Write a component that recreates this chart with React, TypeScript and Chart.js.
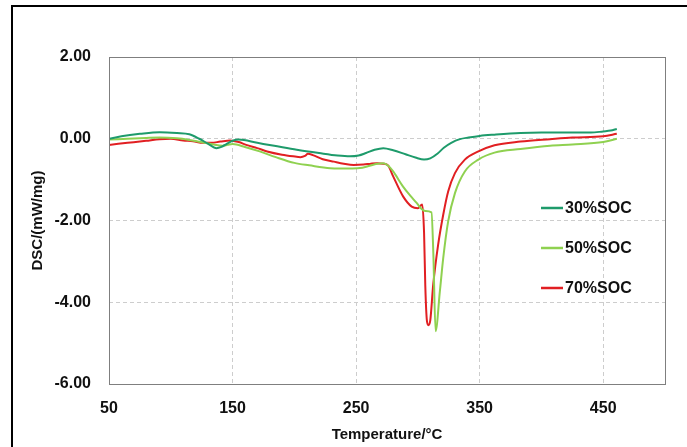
import React, { useEffect, useRef } from "react";
import { Chart, registerables } from "chart.js";

Chart.register(...registerables);

// ---------------- data ----------------
const SERIES_LABELS = ["30%SOC", "50%SOC", "70%SOC"];
const SERIES_COLORS = ["#1E9B6B", "#8FD150", "#E11F22"];

const T30 = [50, 60, 75, 91, 105, 115, 123, 130, 137, 141, 145, 150, 155, 170, 185, 202, 220, 235, 245, 252, 258, 265, 272, 280, 290, 298, 305, 310, 316, 321, 327, 334, 341, 350, 362, 383, 400, 420, 440, 450, 456, 461];
const DSC30 = [0.0, 0.06, 0.12, 0.16, 0.14, 0.11, 0.0, -0.12, -0.23, -0.2, -0.13, -0.05, -0.02, -0.1, -0.18, -0.27, -0.35, -0.41, -0.43, -0.41, -0.35, -0.27, -0.23, -0.28, -0.38, -0.46, -0.51, -0.48, -0.36, -0.22, -0.1, -0.01, 0.03, 0.07, 0.1, 0.14, 0.15, 0.15, 0.15, 0.18, 0.2, 0.24];

const T50 = [50, 65, 80, 91, 105, 115, 124, 133, 142, 146, 150, 160, 172, 185, 200, 212, 229, 247, 255, 261, 266, 272, 276, 280, 288, 294, 299, 303, 306, 311, 312.5, 314.3, 317.8, 320.5, 324.5, 330, 338, 349, 362, 383, 407, 425, 450, 461];
const DSC50 = [-0.02, 0.0, 0.02, 0.03, 0.01, -0.03, -0.08, -0.13, -0.17, -0.15, -0.13, -0.2, -0.31, -0.45, -0.59, -0.65, -0.72, -0.73, -0.71, -0.66, -0.62, -0.6, -0.66, -0.8, -1.17, -1.4, -1.57, -1.72, -1.77, -1.8, -2.8, -4.71, -3.73, -2.92, -2.02, -1.33, -0.8, -0.51, -0.34, -0.25, -0.17, -0.14, -0.08, 0.0];

const T70 = [50, 65, 80, 91, 100, 110, 118, 126, 133, 140, 148, 155, 161, 170, 178, 190, 199, 205, 208.6, 211, 215, 223, 232, 240, 248, 256, 262, 267, 272, 276, 280, 288, 295, 300, 303.5, 305, 306, 307.3, 308.5, 310, 312.4, 316.4, 320.5, 324.5, 330, 338, 349, 362, 383, 407, 425, 450, 461];
const DSC70 = [-0.15, -0.1, -0.05, -0.01, 0.0, -0.04, -0.06, -0.1, -0.1, -0.07, -0.04, -0.08, -0.15, -0.23, -0.31, -0.39, -0.43, -0.45, -0.42, -0.37, -0.4, -0.5, -0.56, -0.61, -0.64, -0.63, -0.61, -0.6, -0.61, -0.66, -0.92, -1.41, -1.66, -1.7, -1.61, -2.3, -3.6, -4.45, -4.56, -4.45, -3.57, -2.59, -1.86, -1.29, -0.84, -0.51, -0.31, -0.16, -0.07, -0.01, 0.03, 0.06, 0.12];

const X_TICKS = [50, 150, 250, 350, 450];
const Y_TICKS = [-6, -4, -2, 0, 2];
const X_MIN = 50;
const X_MAX = 500;
const Y_MIN = -6;
const Y_MAX = 2;
const X_TITLE = "Temperature/°C";
const Y_TITLE = "DSC/(mW/mg)";

const SERIES_T = [T30, T50, T70];
const SERIES_V = [DSC30, DSC50, DSC70];

const FONT_FAMILY = "'Liberation Sans', Arial, sans-serif";

export default function App() {
  const ref = useRef<HTMLCanvasElement | null>(null);

  useEffect(() => {
    const canvas = ref.current;
    if (!canvas) return;

    const framePlugin = {
      id: "framePlugin",
      beforeDraw(chart: any) {
        const ctx = chart.ctx;
        ctx.save();
        ctx.fillStyle = "#ffffff";
        ctx.fillRect(0, 0, chart.width, chart.height);
        ctx.strokeStyle = "#000000";
        ctx.lineWidth = 2;
        ctx.strokeRect(12, 6, chart.width + 20, chart.height + 20);
        ctx.restore();
      },
      afterDatasetsDraw(chart: any) {
        const { ctx, chartArea } = chart;
        ctx.save();
        ctx.strokeStyle = "#7f7f7f";
        ctx.lineWidth = 1;
        ctx.strokeRect(
          Math.round(chartArea.left) + 0.5,
          Math.round(chartArea.top) + 0.5,
          Math.round(chartArea.right - chartArea.left),
          Math.round(chartArea.bottom - chartArea.top)
        );
        ctx.restore();
      },
      afterDraw(chart: any) {
        const ctx = chart.ctx;
        ctx.save();
        const x0 = 541;
        const y0 = 208;
        const gap = 40;
        chart.data.datasets.forEach((ds: any, i: number) => {
          const y = y0 + i * gap;
          ctx.strokeStyle = ds.borderColor;
          ctx.lineWidth = 2.5;
          ctx.beginPath();
          ctx.moveTo(x0, y);
          ctx.lineTo(x0 + 22, y);
          ctx.stroke();
          ctx.fillStyle = "#111111";
          ctx.font = `bold 16px ${FONT_FAMILY}`;
          ctx.textBaseline = "middle";
          ctx.textAlign = "left";
          ctx.fillText(ds.label, x0 + 24, y + 0.5);
        });
        ctx.restore();
      },
    };

    const chart = new Chart(canvas, {
      type: "line",
      data: {
        datasets: SERIES_LABELS.map((label, i) => ({
          label,
          data: SERIES_T[i].map((t, j) => ({ x: t, y: SERIES_V[i][j] })),
          borderColor: SERIES_COLORS[i],
          backgroundColor: SERIES_COLORS[i],
          borderWidth: 2,
          pointRadius: 0,
          fill: false,
          cubicInterpolationMode: "monotone" as const,
        })),
      },
      options: {
        responsive: false,
        animation: false,
        layout: { padding: { left: 0, right: 22, top: 57, bottom: 0 } },
        plugins: {
          legend: { display: false },
          tooltip: { enabled: false },
        },
        scales: {
          x: {
            type: "linear",
            min: X_MIN,
            max: X_MAX,
            afterBuildTicks: (s: any) => {
              s.ticks = X_TICKS.map((v) => ({ value: v }));
            },
            afterFit: (s: any) => {
              s.height = 63;
            },
            grid: {
              drawTicks: false,
              color: (c: any) =>
                c.tick && (c.tick.value === X_MIN || c.tick.value === X_MAX) ? "rgba(0,0,0,0)" : "#cdcdcd",
              lineWidth: 1,
            },
            border: { display: false, dash: [4, 3] },
            ticks: {
              padding: 15,
              color: "#111111",
              font: { family: FONT_FAMILY, size: 16, weight: "bold" },
              maxRotation: 0,
              autoSkip: false,
            },
            title: {
              display: true,
              text: X_TITLE,
              color: "#111111",
              font: { family: FONT_FAMILY, size: 15, weight: "bold" },
              padding: { top: 0, bottom: 3 },
            },
          },
          y: {
            type: "linear",
            min: Y_MIN,
            max: Y_MAX,
            afterBuildTicks: (s: any) => {
              s.ticks = Y_TICKS.map((v) => ({ value: v }));
            },
            afterFit: (s: any) => {
              s.width = 109;
            },
            grid: {
              drawTicks: false,
              color: (c: any) =>
                c.tick && (c.tick.value === Y_MIN || c.tick.value === Y_MAX) ? "rgba(0,0,0,0)" : "#cdcdcd",
              lineWidth: 1,
            },
            border: { display: false, dash: [4, 3] },
            ticks: {
              padding: 18,
              color: "#111111",
              font: { family: FONT_FAMILY, size: 16, weight: "bold" },
              callback: (v: any) => Number(v).toFixed(2),
            },
            title: {
              display: true,
              text: Y_TITLE,
              color: "#111111",
              font: { family: FONT_FAMILY, size: 15, weight: "bold" },
              padding: { top: 29, bottom: 0 },
            },
          },
        },
      },
      plugins: [framePlugin],
    } as any);

    return () => chart.destroy();
  }, []);

  return (
    <div style={{ position: "fixed", left: 0, top: 0, width: 687, height: 447, background: "#fff" }}>
      <canvas ref={ref} width={687} height={447} style={{ display: "block", width: 687, height: 447 }} />
    </div>
  );
}
